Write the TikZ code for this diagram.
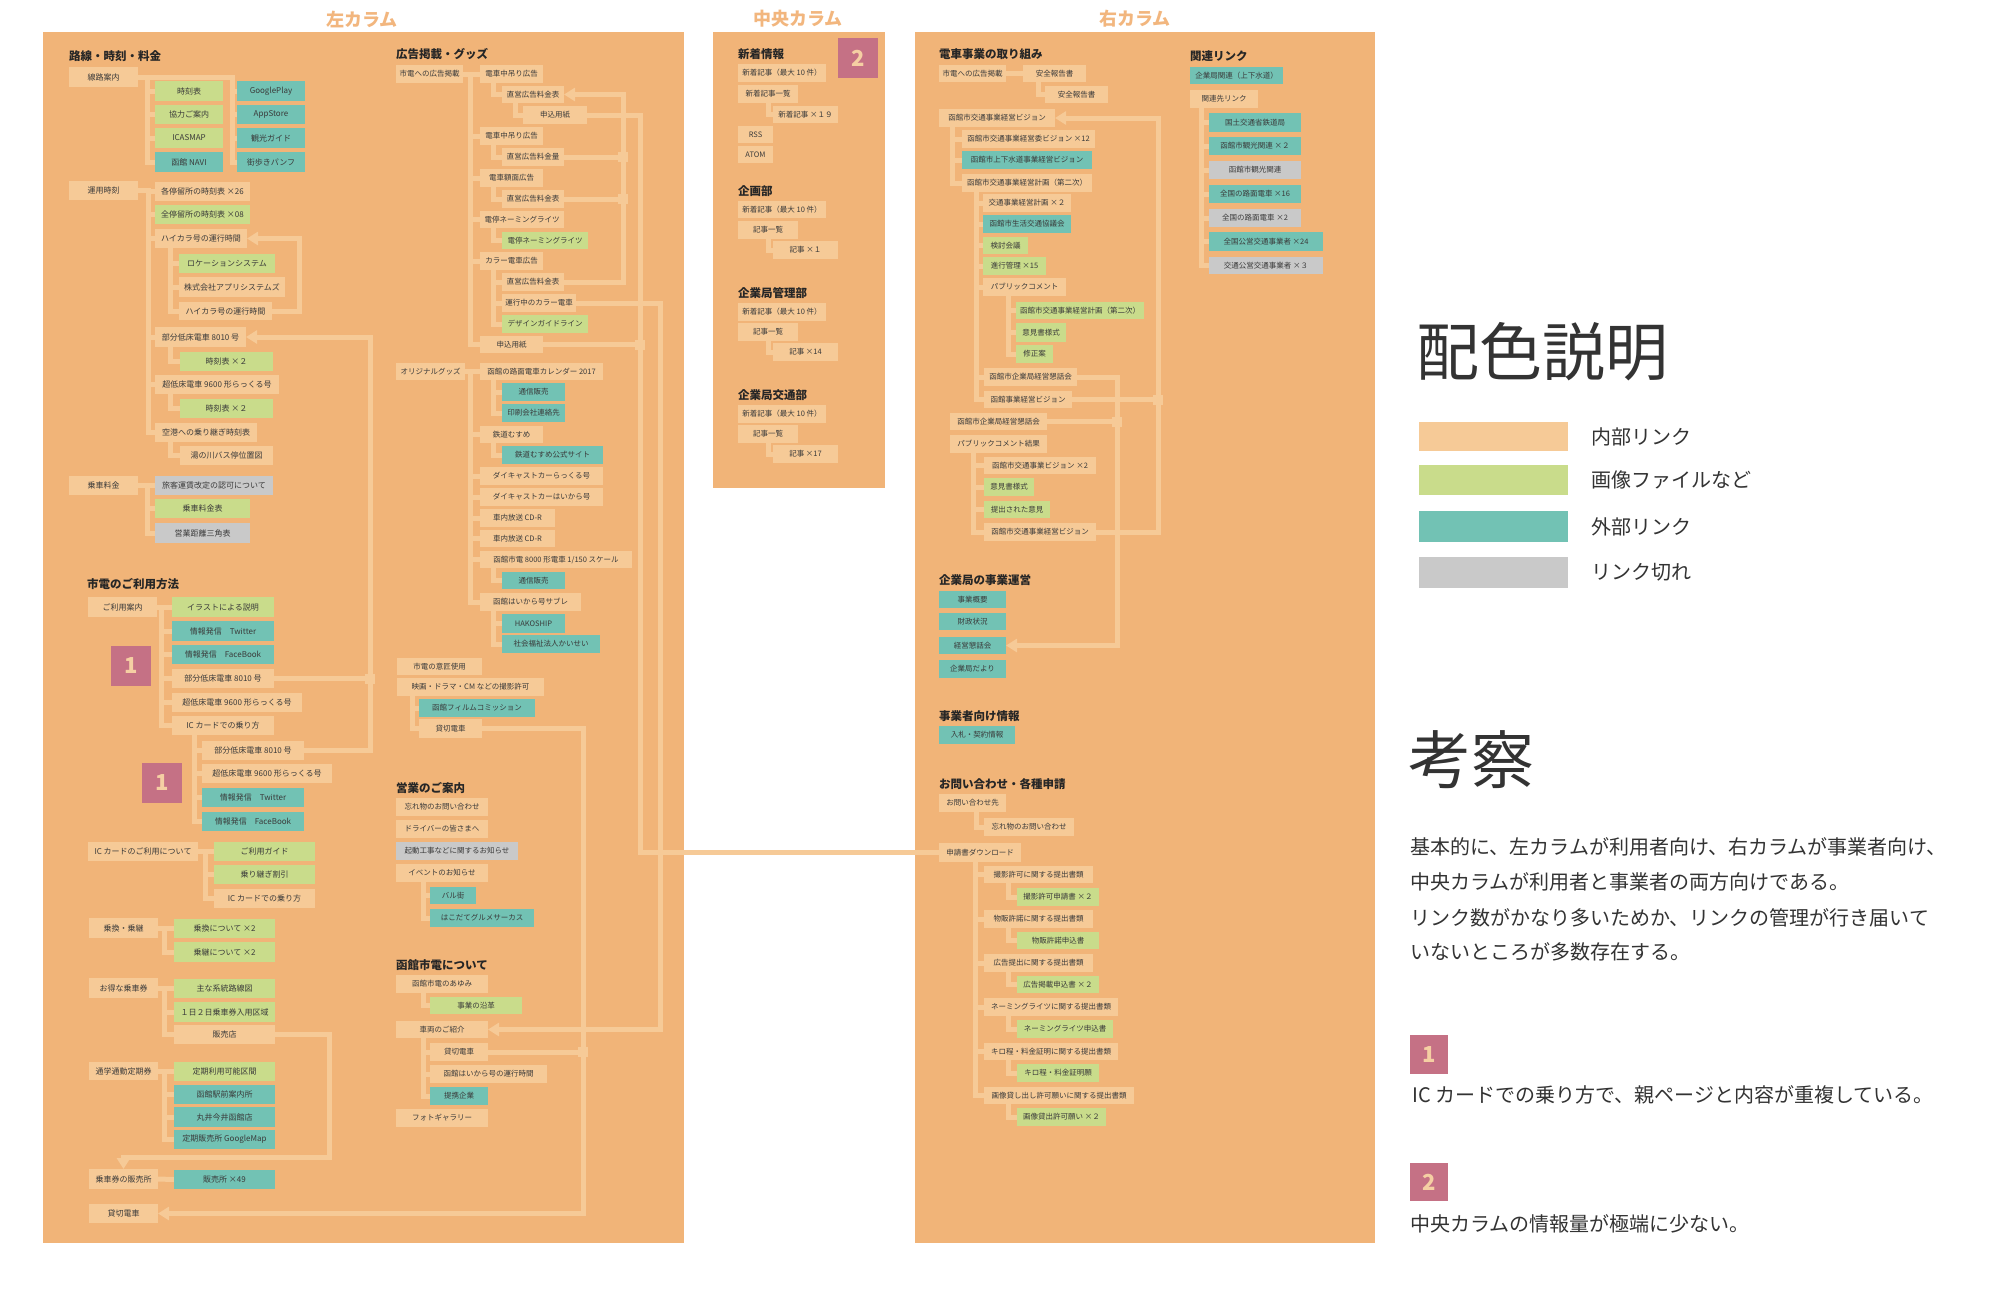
\documentclass[tikz,border=0pt]{standalone}
\usepackage{fontspec}
\setmainfont{Noto Sans CJK JP}
\usetikzlibrary{arrows.meta}
\definecolor{panel}{HTML}{F1B478}
\definecolor{pk}{HTML}{F6CA97}
\definecolor{gn}{HTML}{C9DC8B}
\definecolor{tl}{HTML}{72C2B4}
\definecolor{gy}{HTML}{C9C9C9}
\definecolor{bdg}{HTML}{C57185}
\definecolor{bdgt}{HTML}{F5CFA3}
\definecolor{ttl}{HTML}{F2B67E}
\definecolor{txt}{HTML}{3A3A3A}
\definecolor{dtxt}{HTML}{333333}
\pgfdeclarelayer{back}
\pgfdeclarelayer{lines}
\pgfsetlayers{back,lines,main}
\newcommand{\bx}[7]{\node[#1, minimum width={#5-#3}, minimum height={#6-#4}] (#2) at ({(#3+#5)/2},{(#4+#6)/2}) {#7};}
\newcommand{\side}[3]{\foreach \ch in {#3} {\draw[conn] (#1.east) -| (#2,0 |- \ch.west) -- (\ch.west);}}
\newcommand{\down}[3]{\foreach \ch in {#3} {\draw[conn] (#2,0 |- #1.south) |- (\ch.west);}}
\begin{document}
\begin{tikzpicture}[x=1pt,y=-1pt,
  box/.style={inner sep=0pt, outer sep=0pt, text=txt, font=\fontsize{8}{9}\selectfont},
  pkb/.style={box, fill=pk}, gnb/.style={box, fill=gn}, tlb/.style={box, fill=tl}, gyb/.style={box, fill=gy},
  rs/.style={font=\fontsize{7.5}{8.5}\selectfont},
  hd/.style={anchor=west, inner sep=0pt, text=black!85, font=\bfseries\fontsize{11.5}{12}\selectfont},
  ttlt/.style={inner sep=0pt, text=ttl, font=\bfseries\fontsize{18}{18}\selectfont},
  conn/.style={draw=pk, line width=5pt},
  arr/.style={-{Triangle[length=11pt,width=13pt]}},
  jsq/.style={fill=pk, minimum width=10pt, minimum height=10pt, inner sep=0pt},
  bdgs/.style={fill=bdg, text=bdgt, inner sep=0pt, font=\bfseries\fontsize{22}{22}\selectfont},
  lgbig/.style={anchor=west, inner sep=0pt, text=dtxt, font=\fontsize{63}{63}\selectfont},
  lgtxt/.style={anchor=west, inner sep=0pt, text=dtxt, font=\fontsize{20}{21}\selectfont}]
\useasboundingbox (0,0) rectangle (2004,1288);
\begin{pgfonlayer}{back}
\fill[white] (0,0) rectangle (2004,1288);
\fill[panel] (43,32) rectangle (684,1243);
\fill[panel] (713,32) rectangle (885,488);
\fill[panel] (915,32) rectangle (1375,1243);
\end{pgfonlayer}
% titles
\node[ttlt] (tL) at (362,19) {左カラム};
\node[ttlt] (tC) at (798,19) {中央カラム};
\node[ttlt] (tR) at (1135,19) {右カラム};
% ===== left column =====
\node[hd] (hA) at (69,56) {路線・時刻・料金};
\bx{pkb}{a0}{69}{67}{138}{87}{線路案内}
\bx{gnb}{a1}{155}{81}{223}{101}{時刻表}
\bx{gnb}{a2}{155}{105}{223}{124}{協力ご案内}
\bx{gnb}{a3}{155}{128}{223}{148}{ICASMAP}
\bx{tlb}{a4}{155}{152}{223}{172}{函館 NAVI}
\bx{tlb}{a5}{237}{81}{305}{101}{GooglePlay}
\bx{tlb}{a6}{237}{105}{305}{124}{AppStore}
\bx{tlb}{a7}{237}{128}{305}{148}{観光ガイド}
\bx{tlb}{a8}{237}{152}{305}{172}{街歩きパンフ}
\bx{pkb}{b0}{69}{181}{138}{200}{運用時刻}
\bx{pkb}{b1}{155}{182}{250}{201}{各停留所の時刻表 ×26}
\bx{gnb}{b2}{155}{205}{250}{224}{全停留所の時刻表 ×08}
\bx{pkb}{b3}{155}{229}{247}{248}{ハイカラ号の運行時間}
\bx{gnb}{b4}{179}{254}{275}{273}{ロケーションシステム}
\bx{pkb}{b5}{179}{277}{285}{297}{株式会社アプリシステムズ}
\bx{pkb}{b6}{179}{302}{272}{320}{ハイカラ号の運行時間}
\bx{pkb}{b7}{155}{327}{246}{347}{部分低床電車 8010 号}
\bx{gnb}{b8}{180}{352}{273}{371}{時刻表 ×２}
\bx{pkb}{b9}{155}{375}{279}{394}{超低床電車 9600 形らっくる号}
\bx{gnb}{b10}{180}{399}{273}{418}{時刻表 ×２}
\bx{pkb}{b11}{155}{423}{257}{442}{空港への乗り継ぎ時刻表}
\bx{pkb}{b12}{180}{446}{273}{465}{湯の川バス停位置図}
\bx{pkb}{c0}{69}{476}{138}{495}{乗車料金}
\bx{gyb}{c1}{155}{476}{273}{495}{旅客運賃改定の認可について}
\bx{gnb}{c2}{155}{499}{250}{518}{乗車料金表}
\bx{gyb}{c3}{155}{523}{250}{543}{営業距離三角表}
\node[hd] (hB) at (87,584) {市電のご利用方法};
\bx{pkb}{d0}{88}{597}{157}{617}{ご利用案内}
\bx{gnb}{d1}{172}{597}{274}{617}{イラストによる説明}
\bx{tlb}{d2}{172}{621}{274}{641}{情報発信　Twitter}
\bx{tlb}{d3}{172}{645}{274}{664}{情報発信　FaceBook}
\bx{pkb}{d4}{172}{669}{274}{688}{部分低床電車 8010 号}
\bx{pkb}{d5}{172}{693}{302}{712}{超低床電車 9600 形らっくる号}
\bx{pkb}{d6}{172}{716}{274}{735}{IC カードでの乗り方}
\bx{pkb}{d7}{202}{741}{304}{760}{部分低床電車 8010 号}
\bx{pkb}{d8}{202}{764}{332}{783}{超低床電車 9600 形らっくる号}
\bx{tlb}{d9}{202}{788}{304}{807}{情報発信　Twitter}
\bx{tlb}{d10}{202}{812}{304}{831}{情報発信　FaceBook}
\bx{bdgs}{bdA}{111}{646}{151}{686}{1}
\bx{bdgs}{bdB}{142}{763}{182}{803}{1}
\bx{pkb}{e0}{88}{842}{198}{861}{IC カードのご利用について}
\bx{gnb}{e1}{214}{842}{315}{861}{ご利用ガイド}
\bx{gnb}{e2}{214}{865}{315}{884}{乗り継ぎ割引}
\bx{pkb}{e3}{214}{889}{315}{908}{IC カードでの乗り方}
\bx{pkb}{f0}{89}{918}{158}{938}{乗換・乗継}
\bx{gnb}{f1}{174}{919}{275}{938}{乗換について ×2}
\bx{gnb}{f2}{174}{942}{275}{962}{乗継について ×2}
\bx{pkb}{g0}{89}{978}{158}{998}{お得な乗車券}
\bx{gnb}{g1}{174}{979}{275}{998}{主な系統路線図}
\bx{gnb}{g2}{174}{1002}{275}{1022}{１日２日乗車券入用区域}
\bx{pkb}{g3}{174}{1025}{275}{1044}{販売店}
\bx{pkb}{h0}{89}{1062}{158}{1080}{通学通勤定期券}
\bx{gnb}{h1}{174}{1062}{275}{1081}{定期利用可能区間}
\bx{tlb}{h2}{174}{1085}{275}{1104}{函館駅前案内所}
\bx{tlb}{h3}{174}{1107}{275}{1127}{丸井今井函館店}
\bx{tlb}{h4}{174}{1130}{275}{1149}{定期販売所 GoogleMap}
\bx{pkb}{i0}{89}{1169}{158}{1189}{乗車券の販売所}
\bx{tlb}{i1}{174}{1170}{275}{1189}{販売所 ×49}
\bx{pkb}{j0}{89}{1204}{158}{1223}{貸切電車}
% left-middle
\node[hd] (hC) at (396,54) {広告掲載・グッズ};
\bx{pkb,rs}{k0}{396}{65}{463}{83}{市電への広告掲載}
\bx{pkb,rs}{k1}{480}{65}{543}{83}{電車中吊り広告}
\bx{pkb,rs}{k2}{502}{86}{564}{103}{直営広告料金表}
\bx{pkb,rs}{k3}{523}{106}{587}{124}{申込用紙}
\bx{pkb,rs}{k4}{480}{127}{543}{145}{電車中吊り広告}
\bx{pkb,rs}{k5}{502}{148}{564}{166}{直営広告料金量}
\bx{pkb,rs}{k6}{480}{169}{543}{187}{電車額面広告}
\bx{pkb,rs}{k7}{502}{190}{564}{208}{直営広告料金表}
\bx{pkb,rs}{k8}{480}{211}{564}{228}{電停ネーミングライツ}
\bx{gnb,rs}{k9}{502}{232}{588}{249}{電停ネーミングライツ}
\bx{pkb,rs}{k10}{480}{252}{543}{270}{カラー電車広告}
\bx{pkb,rs}{k11}{502}{273}{564}{291}{直営広告料金表}
\bx{pkb,rs}{k12}{502}{294}{576}{312}{運行中のカラー電車}
\bx{gnb,rs}{k13}{502}{315}{588}{333}{デザインガイドライン}
\bx{pkb,rs}{k14}{480}{336}{543}{353}{申込用紙}
\bx{pkb,rs}{l0}{396}{363}{465}{380}{オリジナルグッズ}
\bx{pkb,rs}{l1}{480}{363}{603}{380}{函館の路面電車カレンダー 2017}
\bx{tlb,rs}{l2}{502}{383}{565}{401}{通信販売}
\bx{tlb,rs}{l3}{502}{404}{565}{422}{印刷会社連絡先}
\bx{pkb,rs}{l4}{480}{426}{543}{443}{鉄道むすめ}
\bx{tlb,rs}{l5}{502}{446}{603}{464}{鉄道むすめ公式サイト}
\bx{pkb,rs}{l6}{480}{467}{603}{485}{ダイキャストカーらっくる号}
\bx{pkb,rs}{l7}{480}{488}{603}{506}{ダイキャストカーはいから号}
\bx{pkb,rs}{l8}{480}{509}{555}{527}{車内放送 CD-R}
\bx{pkb,rs}{l9}{480}{530}{555}{547}{車内放送 CD-R}
\bx{pkb,rs}{l10}{480}{551}{632}{568}{函館市電 8000 形電車 1/150 スケール}
\bx{tlb,rs}{l11}{502}{572}{565}{589}{通信販売}
\bx{pkb,rs}{l12}{480}{593}{581}{611}{函館はいから号サブレ}
\bx{tlb,rs}{l13}{502}{614}{565}{633}{HAKOSHIP}
\bx{tlb,rs}{l14}{502}{635}{600}{653}{社会福祉法人かいせい}
\bx{pkb,rs}{m0}{397}{658}{482}{675}{市電の意匠使用}
\bx{pkb,rs}{m1}{397}{678}{544}{696}{映画・ドラマ・CM などの撮影許可}
\bx{tlb,rs}{m2}{419}{699}{535}{717}{函館フィルムコミッション}
\bx{pkb,rs}{m3}{419}{719}{482}{738}{貸切電車}
\node[hd] (hD) at (396,788) {営業のご案内};
\bx{pkb,rs}{n0}{396}{798}{488}{816}{忘れ物のお問い合わせ}
\bx{pkb,rs}{n1}{396}{820}{488}{838}{ドライバーの皆さまへ}
\bx{gyb,rs}{n2}{396}{842}{518}{860}{起動工事などに関するお知らせ}
\bx{pkb,rs}{n3}{396}{864}{488}{882}{イベントのお知らせ}
\bx{tlb,rs}{n4}{430}{887}{476}{904}{バル街}
\bx{tlb,rs}{n5}{430}{909}{534}{927}{はこだてグルメサーカス}
\node[hd] (hE) at (396,965) {函館市電について};
\bx{pkb,rs}{p0}{396}{975}{488}{993}{函館市電のあゆみ}
\bx{gnb,rs}{p1}{430}{997}{522}{1014}{事業の沿革}
\bx{pkb,rs}{p2}{396}{1021}{488}{1038}{車両のご紹介}
\bx{pkb,rs}{p3}{430}{1043}{488}{1061}{貸切電車}
\bx{pkb,rs}{p4}{430}{1065}{547}{1083}{函館はいから号の運行時間}
\bx{tlb,rs}{p5}{430}{1087}{488}{1105}{提携企業}
\bx{pkb,rs}{p6}{396}{1109}{488}{1127}{フォトギャラリー}
% ===== center column =====
\bx{bdgs}{bdC}{838}{38}{878}{78}{2}
\node[hd] (hF) at (738,54) {新着情報};
\bx{pkb,rs}{q1}{738}{64}{826}{82}{新着記事（最大 10 件）}
\bx{pkb,rs}{q2}{738}{85}{798}{103}{新着記事一覧}
\bx{pkb,rs}{q3}{773}{106}{838}{123}{新着記事 ×１９}
\bx{pkb,rs}{q4}{738}{126}{773}{143}{RSS}
\bx{pkb,rs}{q5}{738}{146}{773}{163}{ATOM}
\node[hd] (hG) at (738,191) {企画部};
\bx{pkb,rs}{r1}{738}{201}{826}{218}{新着記事（最大 10 件）}
\bx{pkb,rs}{r2}{738}{221}{798}{239}{記事一覧}
\bx{pkb,rs}{r3}{773}{241}{838}{259}{記事 ×１}
\node[hd] (hH) at (738,293) {企業局管理部};
\bx{pkb,rs}{s1}{738}{303}{826}{321}{新着記事（最大 10 件）}
\bx{pkb,rs}{s2}{738}{323}{798}{341}{記事一覧}
\bx{pkb,rs}{s3}{773}{343}{838}{361}{記事 ×14}
\node[hd] (hI) at (738,395) {企業局交通部};
\bx{pkb,rs}{t1}{738}{405}{826}{423}{新着記事（最大 10 件）}
\bx{pkb,rs}{t2}{738}{425}{798}{443}{記事一覧}
\bx{pkb,rs}{t3}{773}{445}{838}{463}{記事 ×17}
% ===== right column =====
\node[hd] (hJ) at (939,54) {電車事業の取り組み};
\bx{pkb,rs}{u0}{939}{65}{1006}{82}{市電への広告掲載}
\bx{pkb,rs}{u1}{1023}{65}{1086}{82}{安全報告書}
\bx{pkb,rs}{u2}{1045}{86}{1108}{103}{安全報告書}
\bx{pkb,rs}{u3}{939}{109}{1055}{127}{函館市交通事業経営ビジョン}
\bx{pkb,rs}{u4}{962}{130}{1095}{148}{函館市交通事業経営委ビジョン ×12}
\bx{tlb,rs}{u5}{962}{151}{1092}{169}{函館市上下水道事業経営ビジョン}
\bx{pkb,rs}{u6}{962}{174}{1092}{192}{函館市交通事業経営計画（第二次）}
\bx{pkb,rs}{u7}{983}{194}{1071}{212}{交通事業経営計画 ×２}
\bx{tlb,rs}{u8}{983}{215}{1071}{233}{函館市生活交通協議会}
\bx{gnb,rs}{u9}{983}{237}{1028}{254}{検討会議}
\bx{gnb,rs}{u10}{983}{257}{1046}{275}{進行管理 ×15}
\bx{pkb,rs}{u11}{983}{278}{1066}{296}{パブリックコメント}
\bx{gnb,rs}{u12}{1016}{302}{1144}{319}{函館市交通事業経営計画（第二次）}
\bx{gnb,rs}{u13}{1016}{323}{1066}{342}{意見書様式}
\bx{gnb,rs}{u14}{1016}{345}{1053}{363}{修正案}
\bx{pkb,rs}{u15}{984}{368}{1077}{386}{函館市企業局経営懇話会}
\bx{pkb,rs}{u16}{984}{391}{1072}{408}{函館事業経営ビジョン}
\bx{pkb,rs}{u17}{950}{413}{1047}{430}{函館市企業局経営懇話会}
\bx{pkb,rs}{u18}{950}{435}{1047}{453}{パブリックコメント結果}
\bx{pkb,rs}{u19}{984}{457}{1096}{474}{函館市交通事業ビジョン ×2}
\bx{gnb,rs}{u20}{984}{478}{1034}{496}{意見書様式}
\bx{gnb,rs}{u21}{984}{501}{1050}{518}{提出された意見}
\bx{pkb,rs}{u22}{984}{523}{1096}{541}{函館市交通事業経営ビジョン}
\node[hd] (hK) at (939,580) {企業局の事業運営};
\bx{tlb,rs}{w1}{939}{591}{1006}{608}{事業概要}
\bx{tlb,rs}{w2}{939}{613}{1006}{630}{財政状況}
\bx{tlb,rs}{w3}{939}{637}{1006}{654}{経営懇話会}
\bx{tlb,rs}{w4}{939}{660}{1006}{678}{企業局だより}
\node[hd] (hL) at (939,716) {事業者向け情報};
\bx{tlb,rs}{w5}{939}{726}{1015}{744}{入札・契約情報}
\node[hd] (hM) at (939,784) {お問い合わせ・各種申請};
\bx{pkb,rs}{x0}{939}{794}{1006}{812}{お問い合わせ先}
\bx{pkb,rs}{x1}{984}{818}{1074}{836}{忘れ物のお問い合わせ}
\bx{pkb,rs}{x2}{939}{843}{1021}{862}{申請書ダウンロード}
\bx{pkb,rs}{x3}{984}{866}{1093}{883}{撮影許可に関する提出書類}
\bx{gnb,rs}{x4}{1017}{888}{1099}{906}{撮影許可申請書 ×２}
\bx{pkb,rs}{x5}{984}{910}{1093}{928}{物販許諾に関する提出書類}
\bx{gnb,rs}{x6}{1017}{932}{1099}{949}{物販許諾申込書}
\bx{pkb,rs}{x7}{984}{954}{1093}{972}{広告提出に関する提出書類}
\bx{gnb,rs}{x8}{1017}{976}{1099}{993}{広告掲載申込書 ×２}
\bx{pkb,rs}{x9}{984}{998}{1118}{1016}{ネーミングライツに関する提出書類}
\bx{gnb,rs}{x10}{1017}{1020}{1113}{1038}{ネーミングライツ申込書}
\bx{pkb,rs}{x11}{984}{1043}{1118}{1060}{キロ程・料金証明に関する提出書類}
\bx{gnb,rs}{x12}{1017}{1064}{1099}{1082}{キロ程・料金証明願}
\bx{pkb,rs}{x13}{984}{1087}{1134}{1104}{画像貸し出し許可願いに関する提出書類}
\bx{gnb,rs}{x14}{1017}{1108}{1106}{1126}{画像貸出許可願い ×２}
\node[hd] (hN) at (1190,56) {関連リンク};
\bx{tlb,rs}{y0}{1190}{67}{1283}{84}{企業局関連（上下水道）}
\bx{pkb,rs}{y1}{1190}{90}{1258}{108}{関連先リンク}
\bx{tlb,rs}{y2}{1209}{113}{1301}{132}{国土交通省鉄道局}
\bx{tlb,rs}{y3}{1209}{137}{1301}{155}{函館市観光関連 ×２}
\bx{gyb,rs}{y4}{1209}{161}{1301}{179}{函館市観光関連}
\bx{tlb,rs}{y5}{1209}{185}{1301}{203}{全国の路面電車 ×16}
\bx{gyb,rs}{y6}{1209}{209}{1301}{227}{全国の路面電車 ×2}
\bx{tlb,rs}{y7}{1209}{232}{1323}{251}{全国公営交通事業者 ×24}
\bx{gyb,rs}{y8}{1209}{257}{1323}{274}{交通公営交通事業者 ×３}
% ===== connectors =====
\begin{pgfonlayer}{lines}
\side{a0}{147}{a1,a2,a3,a4}
\side{a0}{232}{a5,a6,a7,a8}
\side{b0}{148}{b1,b2,b3,b7,b9,b11}
\down{b3}{170}{b4,b5,b6}
\down{b7}{170}{b8}
\down{b9}{170}{b10}
\down{b11}{170}{b12}
\draw[conn,arr] (b6.east) -| (299,0 |- b3.east) -- (b3.east);
\side{c0}{147}{c1,c2,c3}
\side{d0}{161}{d1,d2,d3,d4,d5,d6}
\down{d6}{194}{d7,d8,d9,d10}
\draw[conn,arr] (d7.east) -| (370,0 |- b7.east) -- (b7.east);
\draw[conn] (d4.east) -- (370,0 |- d4.east);
\node[jsq] (jA) at (370,0 |- d4.east) {};
\side{e0}{205}{e1,e2,e3}
\side{f0}{164}{f1,f2}
\side{g0}{164}{g1,g2,g3}
\side{h0}{164}{h1,h2,h3,h4}
\draw[conn] (i0.east) -- (i1.west);
\draw[conn,arr] (g3.east) -| (329,1157) -| (i0.north);
\side{k0}{470}{k1,k4,k6,k8,k10,k14}
\down{k1}{493}{k2}
\down{k2}{515}{k3}
\down{k4}{493}{k5}
\down{k6}{493}{k7}
\down{k8}{493}{k9}
\down{k10}{493}{k11,k12,k13}
\draw[conn,arr] (k11.east) -| (623,0 |- k2.east) -- (k2.east);
\draw[conn] (k5.east) -- (623,0 |- k5.east);
\draw[conn] (k7.east) -- (623,0 |- k7.east);
\node[jsq] (jB) at (623,0 |- k5.east) {};
\node[jsq] (jC) at (623,0 |- k7.east) {};
\draw[conn] (k3.east) -| (640,0 |- x2.west) -- (x2.west);
\draw[conn] (k14.east) -- (640,0 |- k14.east);
\node[jsq] (jD) at (640,0 |- k14.east) {};
\draw[conn,arr] (k12.east) -| (660,0 |- p2.east) -- (p2.east);
\side{l0}{470}{l1,l4,l6,l7,l8,l9,l10,l12}
\down{l1}{493}{l2,l3}
\down{l4}{493}{l5}
\down{l10}{493}{l11}
\down{l12}{493}{l13,l14}
\down{m1}{412}{m2,m3}
\draw[conn,arr] (m3.east) -| (583,0 |- j0.east) -- (j0.east);
\draw[conn] (p3.east) -- (583,0 |- p3.east);
\node[jsq] (jE) at (583,0 |- p3.east) {};
\down{n3}{423}{n4,n5}
\down{p0}{423}{p1}
\down{p2}{423}{p3,p4,p5}
\down{q2}{768}{q3}
\down{r2}{768}{r3}
\down{s2}{768}{s3}
\down{t2}{768}{t3}
\draw[conn] (u0.east) -- (u1.west);
\down{u1}{1038}{u2}
\down{u3}{952}{u4,u5,u6}
\down{u6}{976}{u7,u8,u9,u10,u11,u15,u16}
\down{u11}{1008}{u12,u13,u14}
\down{u18}{973}{u19,u20,u21,u22}
\draw[conn,arr] (u22.east) -| (1158,0 |- u3.east) -- (u3.east);
\draw[conn] (u16.east) -- (1158,0 |- u16.east);
\node[jsq] (jF) at (1158,0 |- u16.east) {};
\draw[conn,arr] (u15.east) -| (1117,0 |- w3.east) -- (w3.east);
\draw[conn] (u17.east) -- (1117,0 |- u17.east);
\node[jsq] (jG) at (1117,0 |- u17.east) {};
\down{x0}{976}{x1}
\down{x2}{975}{x3,x5,x7,x9,x11,x13}
\down{x3}{1008}{x4}
\down{x5}{1008}{x6}
\down{x7}{1008}{x8}
\down{x9}{1008}{x10}
\down{x11}{1008}{x12}
\down{x13}{1008}{x14}
\down{y1}{1201}{y2,y3,y4,y5,y6,y7,y8}
\end{pgfonlayer}
% ===== legend =====
\node[lgbig] (lgT) at (1416,352) {配色説明};
\bx{box,fill=pk}{sw1}{1419}{422}{1568}{451}{}
\bx{box,fill=gn}{sw2}{1419}{465}{1568}{495}{}
\bx{box,fill=tl}{sw3}{1419}{511}{1568}{542}{}
\bx{box,fill=gy}{sw4}{1419}{557}{1568}{588}{}
\node[lgtxt] (lg1) at (1591,437) {内部リンク};
\node[lgtxt] (lg2) at (1591,480) {画像ファイルなど};
\node[lgtxt] (lg3) at (1591,527) {外部リンク};
\node[lgtxt] (lg4) at (1591,572) {リンク切れ};
\node[lgbig] (ksT) at (1408,760) {考察};
\node[lgtxt] (ks1) at (1410,847) {基本的に、左カラムが利用者向け、右カラムが事業者向け、};
\node[lgtxt] (ks2) at (1410,882) {中央カラムが利用者と事業者の両方向けである。};
\node[lgtxt] (ks3) at (1410,918) {リンク数がかなり多いためか、リンクの管理が行き届いて};
\node[lgtxt] (ks4) at (1410,952) {いないところが多数存在する。};
\bx{bdgs}{bdD}{1410}{1035}{1448}{1074}{1}
\node[lgtxt] (ks5) at (1412,1095) {IC カードでの乗り方で、親ページと内容が重複している。};
\bx{bdgs}{bdE}{1410}{1163}{1448}{1201}{2}
\node[lgtxt] (ks6) at (1410,1224) {中央カラムの情報量が極端に少ない。};
\end{tikzpicture}
\end{document}
